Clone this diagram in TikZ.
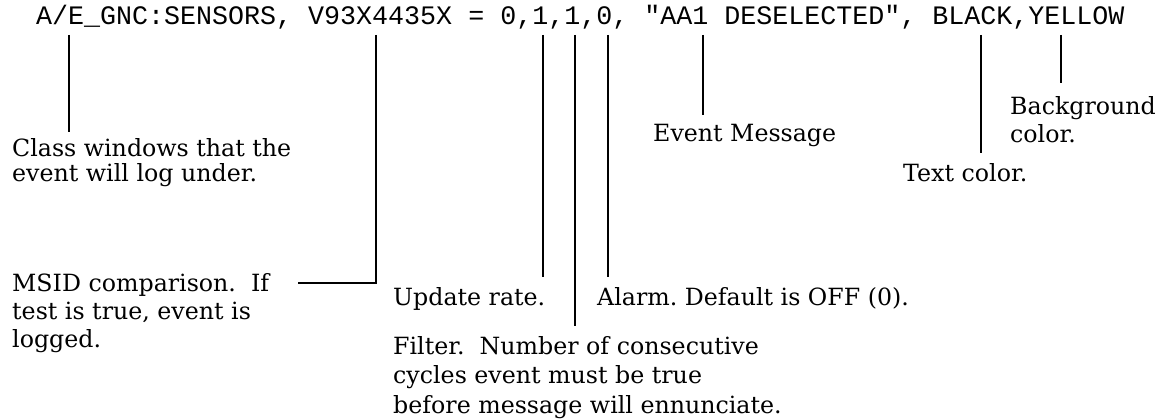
\documentclass[tikz,border=0pt]{standalone}
\usepackage{fontspec}
\setmainfont{DejaVu Serif}
\newfontfamily\hdrfont{Liberation Mono}
\frenchspacing
\begin{document}
\begin{tikzpicture}[x=1pt,y=-1pt,
  lbl/.style={inner sep=0pt, anchor=north west, align=left,
              font=\fontsize{23.7}{28}\selectfont},
  lead/.style={line width=2pt, line cap=butt}]
\useasboundingbox (0,0) rectangle (1168,420);
% header line
\node[inner sep=0pt, anchor=base west, font=\hdrfont\fontsize{26.67}{30}\selectfont]
  (hdr) at (36,25) {A/E\_GNC:SENSORS, V93X4435X = 0,1,1,0, "AA1 DESELECTED", BLACK,YELLOW};
% labels
\node[lbl, font=\fontsize{23.7}{25}\selectfont] (cls) at (12,138) {Class windows that the\\event will log under.};
\node[lbl] (evt) at (653,124) {Event Message};
\node[lbl] (bg) at (1010,96) {Background\\color.};
\node[lbl] (txt) at (903,163) {Text color.};
\node[lbl] (msid) at (12,273) {MSID comparison.\ \ If\\test is true, event is\\logged.};
\node[lbl] (upd) at (393,287) {Update rate.};
\node[lbl] (alm) at (597,287) {Alarm. Default is OFF (0).};
\node[lbl, font=\fontsize{23.7}{29.5}\selectfont] (flt) at (393,336) {Filter.\ \ Number of consecutive\\cycles event must be true\\before message will ennunciate.};
% leader end points
\coordinate (t1) at (69,35);   \coordinate (b1) at (69,132);
\coordinate (t2) at (376,35);  \coordinate (k2) at (376,283); \coordinate (b2) at (298,283);
\coordinate (t3) at (543,35);  \coordinate (b3) at (543,277);
\coordinate (t4) at (575,35);  \coordinate (b4) at (575,326);
\coordinate (t5) at (608,35);  \coordinate (b5) at (608,277);
\coordinate (t6) at (703,35);  \coordinate (b6) at (703,115);
\coordinate (t7) at (981,35);  \coordinate (b7) at (981,153);
\coordinate (t8) at (1061,35); \coordinate (b8) at (1061,83);
\draw[lead] (t1) -- (b1);
\draw[lead] (t2) -- (k2) -- (b2);
\draw[lead] (t3) -- (b3);
\draw[lead] (t4) -- (b4);
\draw[lead] (t5) -- (b5);
\draw[lead] (t6) -- (b6);
\draw[lead] (t7) -- (b7);
\draw[lead] (t8) -- (b8);
\end{tikzpicture}
\end{document}
